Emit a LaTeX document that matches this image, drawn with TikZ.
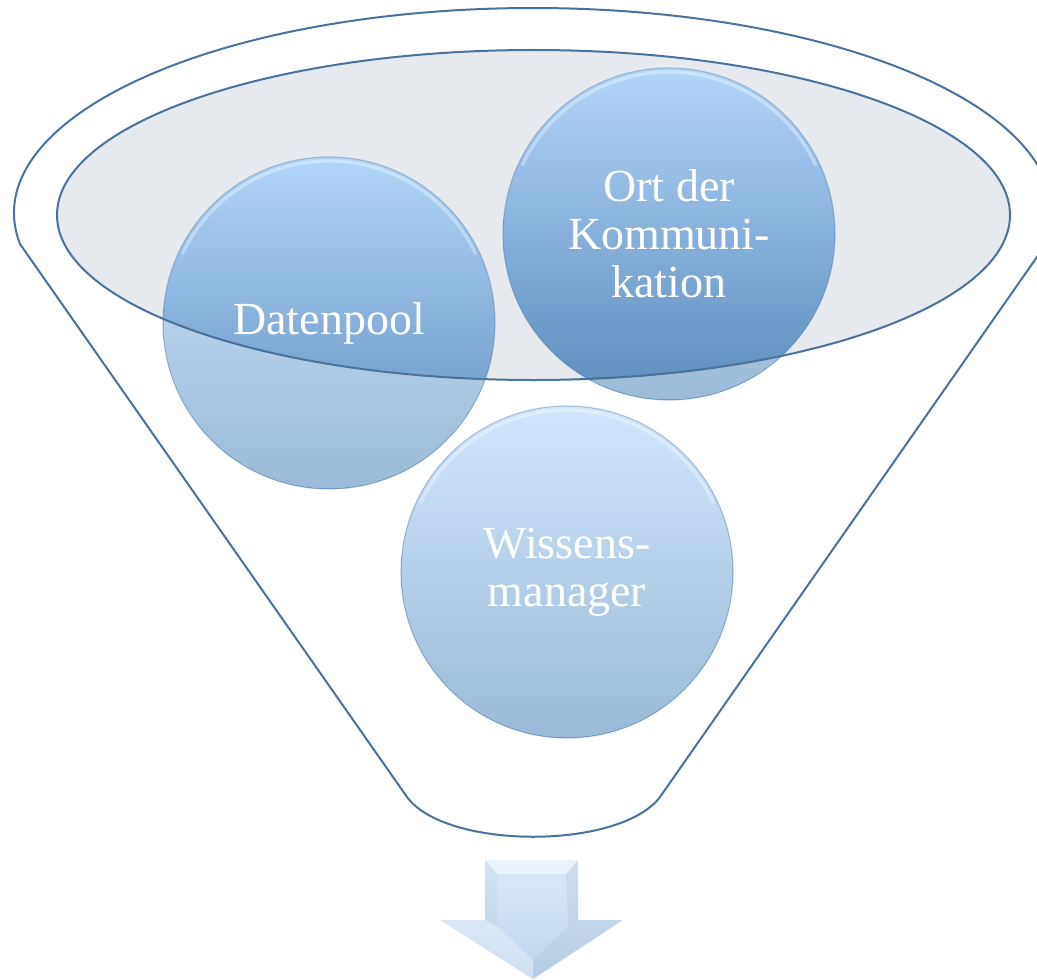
\documentclass[tikz,border=0pt]{standalone}
\usepackage{fontspec}
\setmainfont{Liberation Serif}
\newfontfamily\lserif{Liberation Serif}
\definecolor{funnelline}{HTML}{4A729A}
\definecolor{ellfill}{HTML}{E6E9EE}
\definecolor{ctop}{HTML}{B3D5FA}
\definecolor{cbot}{HTML}{5A8CBD}
\definecolor{arrtop}{HTML}{DCEAFA}
\definecolor{arrbot}{HTML}{BCD2EA}
\tikzset{
  bubble/.style={circle, minimum size=166pt, inner sep=0pt, top color=ctop, bottom color=cbot,
    draw=cbot!80!black, draw opacity=0.35, line width=0.6pt, text=white, align=center,
    font=\lserif\fontsize{23}{24}\selectfont},
  funnel/.style={draw=funnelline, line width=1pt},
}
\begin{document}
\begin{tikzpicture}[x=0.5pt,y=-0.5pt]
\clip (0,0) rectangle (1037,979);
% outer funnel
\draw[funnel] (20,244) arc[start angle=171.3, end angle=368.7, x radius=519, y radius=205]
  -- (660,797) .. controls (620,850) and (446,850) .. (407,797) -- cycle;
% inner ellipse fill
\fill[ellfill] (533.5,215) ellipse[x radius=476.5, y radius=165];
% circles
\node[bubble] (dp) at (329,323) {Datenpool};
\node[bubble] (wm) at (567,572) {Wissens-\\manager};
\node[bubble] (ok) at (669,234) {Ort der\\Kommuni-\\kation};
% soft highlights near the top rim
\foreach \c in {dp,wm,ok}{
  \draw[white, opacity=0.35, line width=1.6pt] (\c.center) ++(205:162) arc[start angle=205, end angle=335, radius=162];
}
% wash out the parts outside the ellipse
\foreach \c in {dp,wm,ok}{
  \begin{scope}
    \clip (\c.center) circle (165.5);
    \fill[white, opacity=0.4, even odd rule] (0,0) rectangle (1037,979) (533.5,215) ellipse[x radius=476.5, y radius=165];
  \end{scope}
}
% ellipse outline
\draw[funnel] (533.5,215) ellipse[x radius=476.5, y radius=165];
% arrow
\shade[top color=arrtop, bottom color=arrbot] (485,860) -- (578,860) -- (578,920) -- (623,920) -- (533,979) -- (440,920) -- (485,920) -- cycle;
\fill[white, opacity=0.45] (485,860) -- (578,860) -- (566,874) -- (497,874) -- cycle;
\fill[arrbot!70!black, opacity=0.12] (578,860) -- (578,920) -- (568,926) -- (566,874) -- cycle;
\fill[arrbot!70!black, opacity=0.08] (485,860) -- (485,920) -- (497,926) -- (497,874) -- cycle;
\fill[white, opacity=0.3] (440,920) -- (485,920) -- (497,926) -- (533,960) -- (533,979) -- cycle;
\fill[arrbot!70!black, opacity=0.1] (623,920) -- (578,920) -- (568,926) -- (533,960) -- (533,979) -- cycle;
\end{tikzpicture}
\end{document}
